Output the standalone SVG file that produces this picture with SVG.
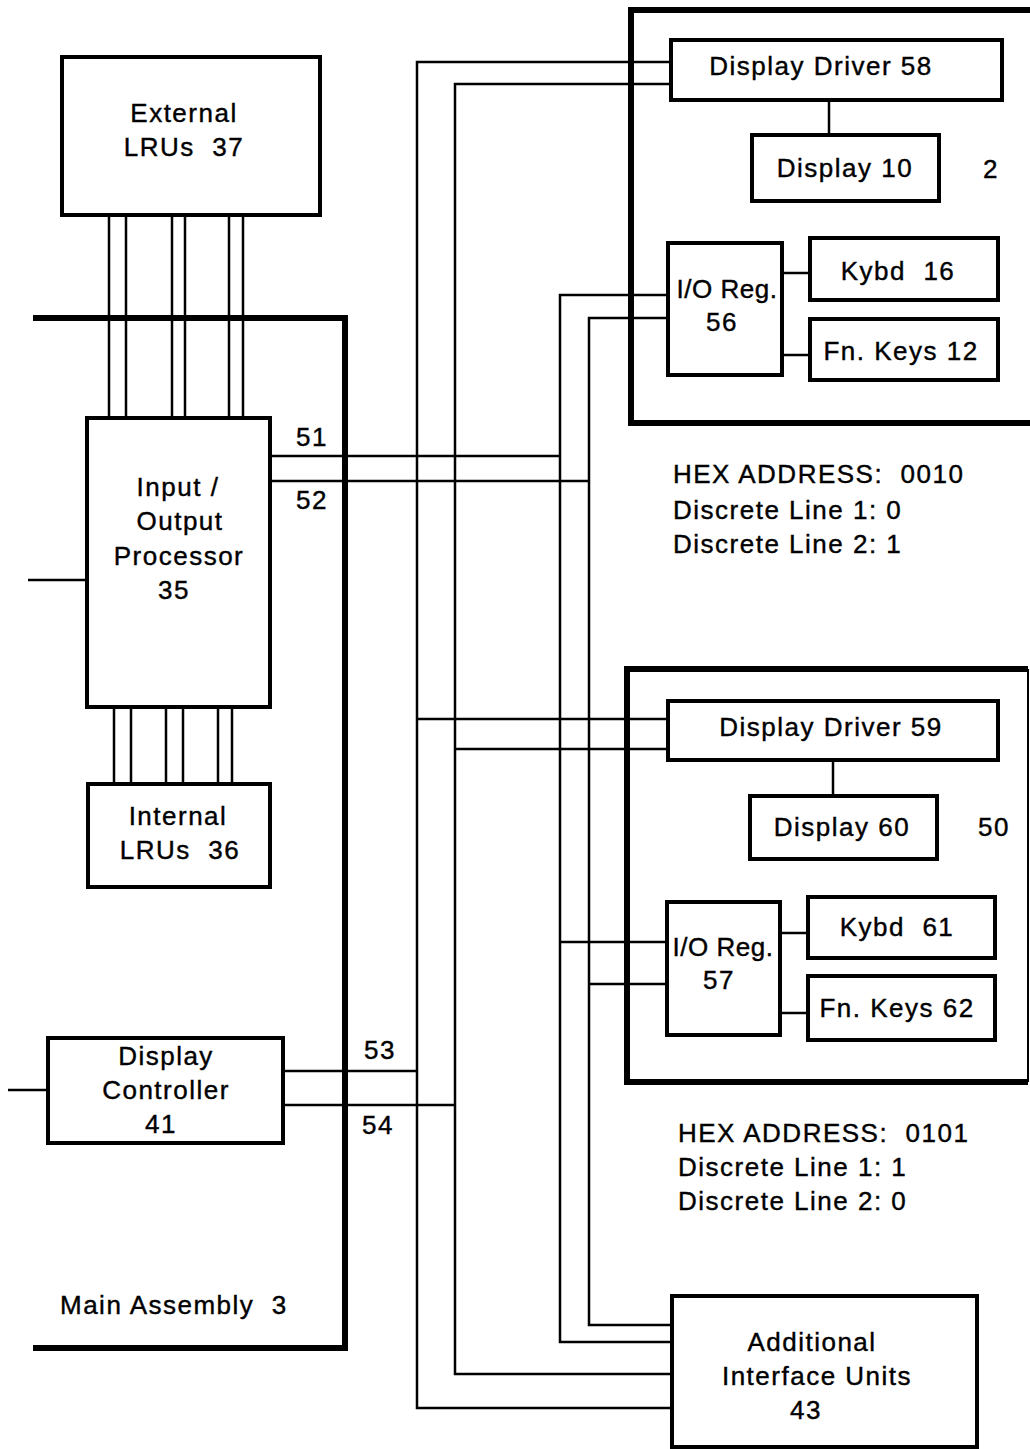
<svg xmlns="http://www.w3.org/2000/svg" width="1030" height="1449" viewBox="0 0 1030 1449" xml:space="preserve">
<style>
.bg{fill:#fff}
.box{fill:#fff;stroke:#000;stroke-width:4}
.frame{fill:none;stroke:#000;stroke-width:6}
.ln{fill:none;stroke:#000;stroke-width:2.5}
text{font-family:"Liberation Sans",Arial,sans-serif;font-size:26px;letter-spacing:1.5px;fill:#000;stroke:#000;stroke-width:0.4;white-space:pre}
.c{text-anchor:middle}
.tight{letter-spacing:0.5px}
</style>
<rect class="bg" x="0" y="0" width="1030" height="1449"/>

<g id="frames">
  <path class="frame" d="M33,318 H345 V1348 H33"/>
  <path class="frame" d="M1030,10 H631 V423 H1030"/>
  <path class="frame" d="M1028,669 H627 V1082 H1028"/>
  <line x1="1028" y1="669" x2="1028" y2="1082" stroke="#000" stroke-width="2"/>
</g>

<g id="connectors">
  <path class="ln" d="M671,62 H417 V1408 H672"/>
  <path class="ln" d="M671,84 H455 V1374 H672"/>
  <path class="ln" d="M668,295 H560 V1342 H672"/>
  <path class="ln" d="M668,318 H589 V1325 H672"/>
  <path class="ln" d="M270,456 H560"/>
  <path class="ln" d="M270,481 H589"/>
  <path class="ln" d="M283,1071 H417"/>
  <path class="ln" d="M283,1105 H455"/>
  <path class="ln" d="M668,719 H417"/>
  <path class="ln" d="M668,749 H455"/>
  <path class="ln" d="M667,942 H560"/>
  <path class="ln" d="M667,984 H589"/>
  <path class="ln" d="M28,580 H87"/>
  <path class="ln" d="M8,1090 H48"/>
  <path class="ln" d="M782,273 H810"/>
  <path class="ln" d="M782,355 H810"/>
  <path class="ln" d="M779,933 H808"/>
  <path class="ln" d="M779,1013 H808"/>
  <path class="ln" d="M829,100 V137"/>
  <path class="ln" d="M833,760 V797"/>
  <path class="ln" d="M109,215 V418 M126,215 V418 M172,215 V418 M185,215 V418 M229,215 V418 M243,215 V418"/>
  <path class="ln" d="M114,706 V784 M131,706 V784 M166,706 V784 M183,706 V784 M218,706 V784 M232,706 V784"/>
</g>

<g id="external-lrus-37">
  <rect class="box" x="62" y="57" width="258" height="158"/>
  <text class="c" x="184" y="122">External</text>
  <text class="c" x="184" y="156">LRUs  37</text>
</g>

<g id="io-processor-35">
  <rect class="box" x="87" y="418" width="183" height="289"/>
  <text class="c" x="178" y="496">Input /</text>
  <text class="c" x="180" y="530">Output</text>
  <text class="c" x="179" y="565">Processor</text>
  <text class="c" x="174" y="599">35</text>
</g>

<g id="internal-lrus-36">
  <rect class="box" x="88" y="784" width="182" height="103"/>
  <text class="c" x="178" y="825">Internal</text>
  <text class="c" x="180" y="859">LRUs  36</text>
</g>

<g id="display-controller-41">
  <rect class="box" x="48" y="1038" width="235" height="105"/>
  <text class="c" x="166" y="1065">Display</text>
  <text class="c" x="166" y="1099">Controller</text>
  <text class="c" x="161" y="1133">41</text>
</g>

<g id="main-assembly-label">
  <text x="60" y="1314">Main Assembly  3</text>
</g>

<g id="bus-labels">
  <text class="c" x="312" y="446">51</text>
  <text class="c" x="312" y="509">52</text>
  <text class="c" x="380" y="1059">53</text>
  <text class="c" x="378" y="1134">54</text>
</g>

<g id="display-driver-58">
  <rect class="box" x="671" y="40" width="331" height="60"/>
  <text class="c" x="821" y="75">Display Driver 58</text>
</g>
<g id="display-10">
  <rect class="box" x="752" y="135" width="187" height="66"/>
  <text class="c" x="845" y="177">Display 10</text>
</g>
<g id="label-2">
  <text class="c" x="991" y="178">2</text>
</g>
<g id="io-reg-56">
  <rect class="box" x="668" y="243" width="114" height="132"/>
  <text class="c tight" x="727" y="298">I/O Reg.</text>
  <text class="c" x="722" y="331">56</text>
</g>
<g id="kybd-16">
  <rect class="box" x="810" y="238" width="188" height="62"/>
  <text class="c" x="898" y="280">Kybd  16</text>
</g>
<g id="fn-keys-12">
  <rect class="box" x="810" y="319" width="188" height="61"/>
  <text class="c" x="901" y="360">Fn. Keys 12</text>
</g>
<g id="hex-0010">
  <text x="673" y="483">HEX ADDRESS:  0010</text>
  <text x="673" y="519">Discrete Line 1: 0</text>
  <text x="673" y="553">Discrete Line 2: 1</text>
</g>

<g id="display-driver-59">
  <rect class="box" x="668" y="701" width="330" height="59"/>
  <text class="c" x="831" y="736">Display Driver 59</text>
</g>
<g id="display-60">
  <rect class="box" x="750" y="796" width="187" height="63"/>
  <text class="c" x="842" y="836">Display 60</text>
</g>
<g id="label-50">
  <text class="c" x="994" y="836">50</text>
</g>
<g id="io-reg-57">
  <rect class="box" x="667" y="902" width="113" height="133"/>
  <text class="c tight" x="723" y="956">I/O Reg.</text>
  <text class="c" x="719" y="989">57</text>
</g>
<g id="kybd-61">
  <rect class="box" x="808" y="897" width="187" height="61"/>
  <text class="c" x="897" y="936">Kybd  61</text>
</g>
<g id="fn-keys-62">
  <rect class="box" x="808" y="976" width="187" height="64"/>
  <text class="c" x="897" y="1017">Fn. Keys 62</text>
</g>
<g id="hex-0101">
  <text x="678" y="1142">HEX ADDRESS:  0101</text>
  <text x="678" y="1176">Discrete Line 1: 1</text>
  <text x="678" y="1210">Discrete Line 2: 0</text>
</g>

<g id="additional-interface-units-43">
  <rect class="box" x="672" y="1296" width="305" height="151"/>
  <text class="c" x="812" y="1351">Additional</text>
  <text class="c" x="817" y="1385">Interface Units</text>
  <text class="c" x="806" y="1419">43</text>
</g>
</svg>
